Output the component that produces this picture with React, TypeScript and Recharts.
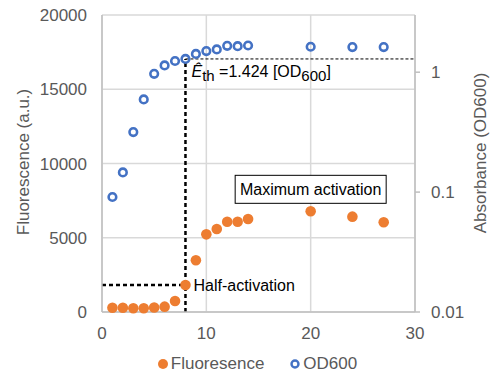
import React from 'react';
import {
  ComposedChart,
  Scatter,
  XAxis,
  YAxis,
  CartesianGrid,
  Legend,
  ReferenceLine,
  ReferenceDot,
} from 'recharts';

// culture time (h)
const hours = [1, 2, 3, 4, 5, 6, 7, 8, 9, 10, 11, 12, 13, 14, 20, 24, 27];
const fluorescence = [290, 290, 250, 250, 300, 360, 740, 1820, 3480, 5230, 5590, 6080, 6080, 6260, 6780, 6420, 6040];
const od600 = [0.091, 0.146, 0.317, 0.593, 0.97, 1.14, 1.24, 1.29, 1.42, 1.5, 1.55, 1.66, 1.65, 1.67, 1.63, 1.62, 1.62];

const xTicks = [0, 10, 20, 30];
const fluoTicks = [0, 5000, 10000, 15000, 20000];
const odTicks = [0.01, 0.1, 1];

const halfActivationHour = 8;
const thresholdLabel = '1.424';

const ORANGE = '#ED7D31';
const BLUE = '#4472C4';
const GRID = '#D9D9D9';
const AXIS = '#BFBFBF';
const TEXT = '#595959';
const FONT = '"Liberation Sans", Arial, sans-serif';

const fluoData = hours.map((x, i) => ({ x, y: fluorescence[i] }));
const odData = hours.map((x, i) => ({ x, y: od600[i] }));

const halfIdx = hours.indexOf(halfActivationHour);
const halfFluo = fluorescence[halfIdx];
const halfOd = od600[halfIdx];

const maxIdx = fluorescence.indexOf(Math.max(...fluorescence));

const FilledDot = (props: any) => (
  <circle cx={props.cx} cy={props.cy} r={5.3} fill={ORANGE} />
);

const OpenDot = (props: any) => (
  <circle cx={props.cx} cy={props.cy} r={3.8} fill="none" stroke={BLUE} strokeWidth={2.6} />
);

const MaxBox = (props: any) => {
  const w = 151;
  const h = 28;
  const x = props.cx - w / 2;
  const y = props.cy - 36;
  return (
    <g>
      <rect x={x} y={y} width={w} height={h} fill="#fff" stroke="#000" strokeWidth={1} />
      <text x={props.cx} y={y + 20} textAnchor="middle" fontSize={16} fontFamily={FONT} fill="#000">
        Maximum activation
      </text>
    </g>
  );
};

function LegendContent() {
  return (
    <div
      style={{
        display: 'flex',
        justifyContent: 'center',
        alignItems: 'center',
        paddingTop: 12,
        paddingLeft: 24,
        fontFamily: FONT,
        fontSize: 17,
        color: TEXT,
      }}
    >
      <svg width={12} height={12} style={{ marginRight: 2 }}>
        <circle cx={6} cy={6} r={5} fill={ORANGE} />
      </svg>
      <span style={{ marginRight: 26 }}>Fluoresence</span>
      <svg width={10} height={10} style={{ marginRight: 3 }}>
        <circle cx={5} cy={5} r={3.5} fill="none" stroke={BLUE} strokeWidth={2.4} />
      </svg>
      <span>OD600</span>
    </div>
  );
}

export default function App() {
  const tick = { fill: TEXT, fontSize: 17, fontFamily: FONT };
  return (
    <div style={{ position: 'absolute', left: 0, top: 0, background: '#fff' }}>
      <ComposedChart
        width={490}
        height={375}
        margin={{ top: 15, right: 0, bottom: 0, left: 0 }}
      >
        <CartesianGrid yAxisId="left" stroke={GRID} strokeWidth={1.5} />
        <XAxis
          type="number"
          dataKey="x"
          domain={[0, 30]}
          ticks={xTicks}
          axisLine={{ stroke: AXIS, strokeWidth: 1.5 }}
          tickLine={false}
          tickSize={0}
          tickMargin={15}
          height={30}
          tick={tick}
        />
        <YAxis
          yAxisId="left"
          type="number"
          domain={[0, 20000]}
          ticks={fluoTicks}
          width={102}
          axisLine={{ stroke: AXIS, strokeWidth: 1.5 }}
          tickLine={false}
          tickSize={0}
          tickMargin={15}
          tick={tick}
          label={{
            content: () => (
              <text
                transform={`translate(29, 162) rotate(-90)`}
                textAnchor="middle"
                fontSize={17}
                fontFamily={FONT}
                fill={TEXT}
              >
                Fluorescence (a.u.)
              </text>
            ),
          }}
        />
        <YAxis
          yAxisId="right"
          orientation="right"
          type="number"
          scale="log"
          domain={[0.01, 3]}
          allowDataOverflow
          ticks={odTicks}
          width={75}
          axisLine={{ stroke: AXIS, strokeWidth: 1.5 }}
          tickLine={{ stroke: AXIS, strokeWidth: 1.5 }}
          tickSize={5}
          tickMargin={11}
          tick={{ ...tick, textAnchor: 'start' }}
          tickFormatter={(v: number) => String(v)}
          label={{
            content: () => (
              <text
                transform={`translate(486, 153) rotate(-90)`}
                textAnchor="middle"
                fontSize={17}
                fontFamily={FONT}
                fill={TEXT}
              >
                Absorbance (OD600)
              </text>
            ),
          }}
        />
        <Legend verticalAlign="bottom" height={33} content={<LegendContent />} />

        {/* half-activation guides */}
        <ReferenceLine
          yAxisId="right"
          segment={[
            { x: halfActivationHour, y: 0.01 },
            { x: halfActivationHour, y: halfOd },
          ]}
          stroke="#000"
          strokeWidth={2.5}
          strokeDasharray="4 3"
        />
        <ReferenceLine
          yAxisId="left"
          segment={[
            { x: 0, y: halfFluo },
            { x: halfActivationHour, y: halfFluo },
          ]}
          stroke="#000"
          strokeWidth={2.5}
          strokeDasharray="4 3"
        />
        <ReferenceLine
          yAxisId="right"
          segment={[
            { x: halfActivationHour, y: halfOd },
            { x: 30, y: halfOd },
          ]}
          stroke="#000"
          strokeWidth={1}
          strokeDasharray="3 2"
        />

        <Scatter
          yAxisId="left"
          name="Fluoresence"
          data={fluoData}
          dataKey="y"
          shape={FilledDot}
          isAnimationActive={false}
        />
        <Scatter
          yAxisId="right"
          name="OD600"
          data={odData}
          dataKey="y"
          shape={OpenDot}
          isAnimationActive={false}
        />

        <ReferenceDot
          yAxisId="left"
          x={hours[maxIdx]}
          y={fluorescence[maxIdx]}
          shape={MaxBox}
        />
        <ReferenceDot
          yAxisId="left"
          x={halfActivationHour}
          y={halfFluo}
          shape={(p: any) => (
            <text x={p.cx + 8} y={p.cy + 6} fontSize={16} fontFamily={FONT} fill="#000">
              Half-activation
            </text>
          )}
        />
        <ReferenceDot
          yAxisId="right"
          x={halfActivationHour}
          y={halfOd}
          shape={(p: any) => (
            <text x={p.cx + 6} y={p.cy + 18} fontSize={16} fontFamily={FONT} fill="#000">
              <tspan fontStyle="italic">Ê</tspan>
              <tspan fontSize={15} dy={4}>th</tspan>
              <tspan dy={-4}>{` =${thresholdLabel} [OD`}</tspan>
              <tspan fontSize={15} dy={4}>600</tspan>
              <tspan dy={-4}>]</tspan>
            </text>
          )}
        />
      </ComposedChart>
    </div>
  );
}
